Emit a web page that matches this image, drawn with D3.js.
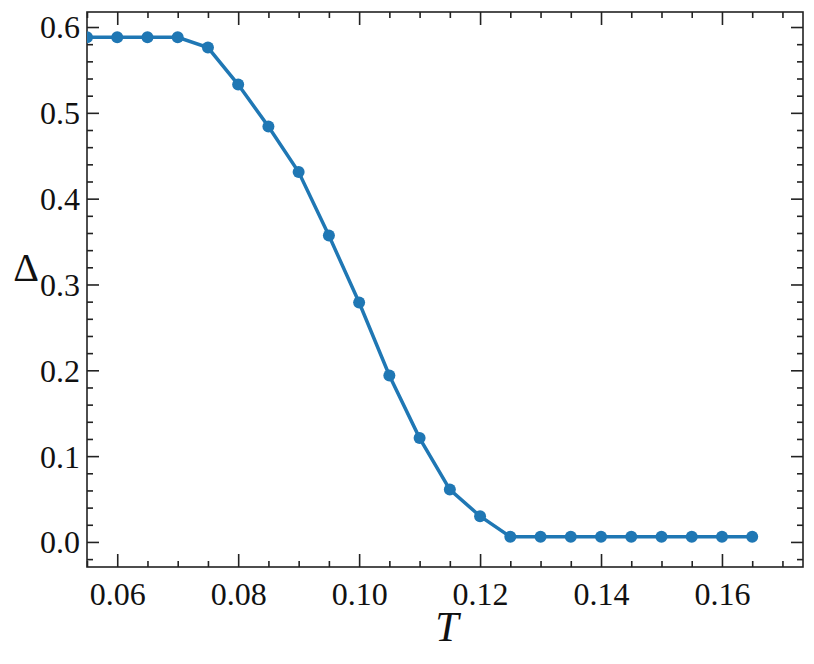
<!DOCTYPE html>
<!-- Delta vs T -->
<html><head><meta charset="utf-8">
<title>gap vs temperature</title>
<script src="https://cdn.jsdelivr.net/npm/d3@7"></script>
<style>body{margin:0;background:#fff} text{font-family:"Liberation Serif";}</style>
</head><body>
<script>
const tValues = [0.055,0.06,0.065,0.07,0.075,0.08,0.085,0.09,0.095,0.10,0.105,0.11,0.115,0.12,0.125,0.13,0.135,0.14,0.145,0.15,0.155,0.16,0.165];
const deltaValues = [0.588,0.588,0.588,0.588,0.576,0.533,0.484,0.431,0.357,0.279,0.194,0.121,0.061,0.030,0.006,0.006,0.006,0.006,0.006,0.006,0.006,0.006,0.006];
const xTicks = [0.06,0.08,0.10,0.12,0.14,0.16];
const yTicks = [0.0,0.1,0.2,0.3,0.4,0.5,0.6];
const xLabel = "T", yLabel = "Δ";

const W=814,H=664, L=87,R=803,TOP=12,B=567;
const svg=d3.select("body").append("svg").attr("width",W).attr("height",H);
const x=d3.scaleLinear().domain([0.055,0.1734]).range([L,R]);
const y=d3.scaleLinear().domain([-0.0292,0.6175]).range([B,TOP]);
const font="Liberation Serif";
const xMinor=d3.range(0.055,0.1734,0.005).filter(v=>!xTicks.some(t=>Math.abs(t-v)<1e-6));
const yMinor=d3.range(-0.02,0.62,0.02).filter(v=>!yTicks.some(t=>Math.abs(t-v)<1e-6));

function ax(gen, tr){ const g=svg.append("g").attr("transform",tr).call(gen); g.attr("font-family",null).style("font-family",font); g.select(".domain").remove(); g.selectAll("line").attr("stroke","#222").attr("stroke-width",1.6); return g;}
const bx=ax(d3.axisBottom(x).tickValues(xTicks).tickSize(-13).tickPadding(10).tickFormat(d3.format(".2f")),`translate(0,${B})`);
bx.selectAll("text").style("font-family",font).attr("font-size",32).attr("fill","#111").attr("dy","0.88em");
ax(d3.axisBottom(x).tickValues(xMinor).tickSize(-6).tickFormat(""),`translate(0,${B})`);
ax(d3.axisTop(x).tickValues(xTicks).tickSize(-13).tickFormat(""),`translate(0,${TOP})`);
ax(d3.axisTop(x).tickValues(xMinor).tickSize(-6).tickFormat(""),`translate(0,${TOP})`);
const ly=ax(d3.axisLeft(y).tickValues(yTicks).tickSize(-12).tickPadding(7).tickFormat(d3.format(".1f")),`translate(${L},0)`);
ly.selectAll("text").style("font-family",font).attr("font-size",32).attr("fill","#111").attr("dy","0.34em");
ax(d3.axisLeft(y).tickValues(yMinor).tickSize(-6).tickFormat(""),`translate(${L},0)`);
ax(d3.axisRight(y).tickValues(yTicks).tickSize(-12).tickFormat(""),`translate(${R},0)`);
ax(d3.axisRight(y).tickValues(yMinor).tickSize(-6).tickFormat(""),`translate(${R},0)`);
svg.append("rect").attr("x",L).attr("y",TOP).attr("width",R-L).attr("height",B-TOP).attr("fill","none").attr("stroke","#222").attr("stroke-width",1.6);

const data=tValues.map((t,i)=>({t,d:deltaValues[i]}));
svg.append("clipPath").attr("id","c").append("rect").attr("x",L).attr("y",TOP).attr("width",R-L).attr("height",B-TOP);
const pg=svg.append("g").attr("clip-path","url(#c)");
pg.append("path").datum(data).attr("fill","none").attr("stroke","#1f77b4").attr("stroke-width",3.5)
  .attr("d",d3.line().x(d=>x(d.t)).y(d=>y(d.d)));
pg.selectAll("circle").data(data).join("circle").attr("cx",d=>x(d.t)).attr("cy",d=>y(d.d)).attr("r",6).attr("fill","#1f77b4");

svg.append("text").attr("x",(L+R)/2+2).attr("y",641).attr("text-anchor","middle").style("font-family",font).attr("font-style","italic").attr("font-size",42).attr("fill","#111").text(xLabel);
svg.append("text").attr("x",26).attr("y",281).attr("text-anchor","middle").style("font-family",font).attr("font-size",40).attr("fill","#111").text(yLabel);
</script>
</body></html>
